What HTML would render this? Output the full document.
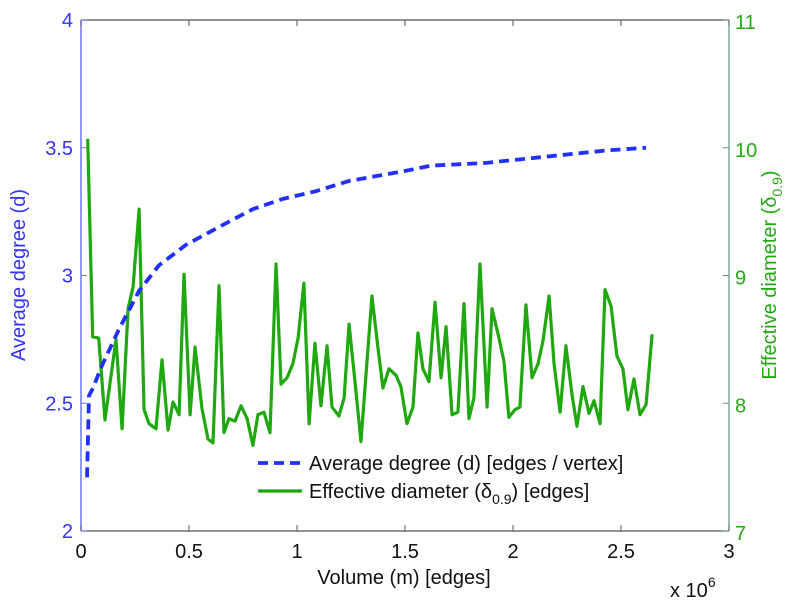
<!DOCTYPE html>
<html><head><meta charset="utf-8"><style>
body{margin:0;background:#fff}
text{font-family:"Liberation Sans",sans-serif}
</style></head><body>
<svg id="chart" width="806" height="600" xmlns="http://www.w3.org/2000/svg">
</svg>
<script>
const xTicks=[0,0.5,1,1.5,2,2.5,3];
const xTickLabels=["0","0.5","1","1.5","2","2.5","3"];
const yLeftTicks=[2,2.5,3,3.5,4];
const yLeftLabels=["2","2.5","3","3.5","4"];
const yRightTicks=[7,8,9,10,11];
const yRightLabels=["7","8","9","10","11"];
const degVol=[0.028,0.037,0.056,0.093,0.176,0.269,0.361,0.486,0.639,0.796,0.935,1.088,1.241,1.505,1.620,1.866,2.208,2.440,2.616];
const degVal=[2.21,2.53,2.56,2.64,2.79,2.94,3.04,3.12,3.19,3.26,3.30,3.33,3.37,3.41,3.43,3.44,3.47,3.49,3.50];
const diaVol=[0.031,0.054,0.082,0.111,0.162,0.190,0.218,0.241,0.269,0.292,0.315,0.347,0.375,0.403,0.426,0.454,0.477,0.505,0.528,0.560,0.588,0.611,0.639,0.662,0.685,0.713,0.741,0.769,0.796,0.819,0.847,0.875,0.903,0.926,0.954,0.981,1.005,1.032,1.056,1.083,1.111,1.139,1.162,1.194,1.218,1.241,1.269,1.296,1.347,1.375,1.398,1.426,1.458,1.481,1.509,1.537,1.560,1.583,1.611,1.639,1.667,1.690,1.718,1.745,1.773,1.796,1.819,1.847,1.880,1.903,1.931,1.958,1.981,2.009,2.032,2.060,2.088,2.116,2.139,2.167,2.190,2.218,2.245,2.273,2.296,2.324,2.352,2.375,2.403,2.426,2.454,2.481,2.509,2.532,2.560,2.588,2.616,2.644];
const diaVal=[10.07,8.52,8.51,7.87,8.50,7.80,8.74,8.91,9.52,7.95,7.84,7.80,8.34,7.79,8.01,7.91,9.01,7.91,8.44,7.96,7.72,7.69,8.92,7.77,7.88,7.86,7.98,7.88,7.67,7.91,7.93,7.77,9.09,8.15,8.20,8.31,8.51,8.94,7.84,8.47,7.98,8.45,7.97,7.90,8.04,8.62,8.16,7.70,8.84,8.43,8.12,8.27,8.22,8.13,7.84,7.97,8.55,8.27,8.17,8.79,8.20,8.60,7.91,7.93,8.78,7.88,8.04,9.09,7.97,8.74,8.54,8.33,7.89,7.95,7.97,8.77,8.20,8.31,8.49,8.84,8.31,7.93,8.45,8.07,7.82,8.13,7.92,8.02,7.84,8.89,8.76,8.37,8.27,7.95,8.19,7.91,7.99,8.54];

const L=81,R=729,T=20,B=531;
const sx=v=>L+(v-0)/3*(R-L);
const syL=v=>B-(v-2)/2*(B-T);
const syR=v=>B-(v-7)/4*(B-T);
const svg=document.getElementById('chart');
const NS="http://www.w3.org/2000/svg";
function mk(tag,attrs,parent){const e=document.createElementNS(NS,tag);for(const k in attrs)e.setAttribute(k,attrs[k]);(parent||svg).appendChild(e);return e;}
function txt(s,attrs){const e=mk('text',attrs);e.textContent=s;return e;}

let e;
e=mk('line',{x1:L,y1:T,x2:R,y2:T,stroke:'#555','stroke-width':1.2});


e=mk('line',{x1:L,y1:B,x2:R,y2:B,stroke:'#555','stroke-width':1.2});


e=mk('line',{x1:L,y1:T,x2:L,y2:B,stroke:'#6a75ff','stroke-width':1.5});


e=mk('line',{x1:R,y1:T,x2:R,y2:B,stroke:'#5a9a7a','stroke-width':1.2});



xTicks.forEach((t,i)=>{
  const x=sx(t);
  e=mk('line',{x1:x,y1:B,x2:x,y2:B-6,stroke:'#555'});
  
  
  e=mk('line',{x1:x,y1:T,x2:x,y2:T+6,stroke:'#555'});
  
  
  e=txt(xTickLabels[i],{x:x,y:558,'text-anchor':'middle','font-size':20,fill:'#111'});
  
  
});
yLeftTicks.forEach((t,i)=>{
  const y=syL(t);
  e=mk('line',{x1:L,y1:y,x2:L+6,y2:y,stroke:'#6a75ff'});
  
  
  e=txt(yLeftLabels[i],{x:L-8,y:y+7,'text-anchor':'end','font-size':20,fill:'#3333ff'});
  
  
});
yRightTicks.forEach((t,i)=>{
  const y=syR(t);
  e=mk('line',{x1:R,y1:y,x2:R-6,y2:y,stroke:'#5a9a7a'});
  
  
  e=txt(yRightLabels[i],{x:R+6,y:y+9,'text-anchor':'start','font-size':20,fill:'#22aa11'});
  
  
});

e=mk('polyline',{points:diaVol.map((v,i)=>sx(v)+','+syR(diaVal[i])).join(' '),fill:'none',stroke:'#1fa80f','stroke-width':3.2,'stroke-linejoin':'round'});


e=mk('polyline',{points:degVol.map((v,i)=>sx(v)+','+syL(degVal[i])).join(' '),fill:'none',stroke:'#2030ff','stroke-width':3.8,'stroke-dasharray':'10 6'});



e=txt('Average degree (d)',{x:0,y:0,transform:'translate(25,275) rotate(-90)','text-anchor':'middle','font-size':20,fill:'#3333ff'});


e=mk('text',{x:0,y:0,transform:'translate(776,275) rotate(-90)','text-anchor':'middle','font-size':20,fill:'#22aa11'});
e.innerHTML='Effective diameter (δ<tspan font-size="14" dy="6">0.9</tspan><tspan dy="-6">)</tspan>';


e=txt('Volume (m) [edges]',{x:404,y:584,'text-anchor':'middle','font-size':20,fill:'#111'});


e=mk('text',{x:670,y:597,'font-size':20,fill:'#111'});
e.innerHTML='x 10<tspan font-size="14" dy="-10">6</tspan>';



const lg=mk('g',{});


e=mk('line',{x1:258,y1:463,x2:302,y2:463,stroke:'#2030ff','stroke-width':3.8,'stroke-dasharray':'10 6'},lg);


e=mk('text',{x:309,y:470,'font-size':20,fill:'#111'},lg);
e.textContent='Average degree (d) [edges / vertex]';


e=mk('line',{x1:258,y1:491,x2:302,y2:491,stroke:'#1fa80f','stroke-width':3.2},lg);


e=mk('text',{x:309,y:498,'font-size':20,fill:'#111'},lg);
e.innerHTML='Effective diameter (δ<tspan font-size="14" dy="6">0.9</tspan><tspan dy="-6">) [edges]</tspan>';


</script>
</body></html>
